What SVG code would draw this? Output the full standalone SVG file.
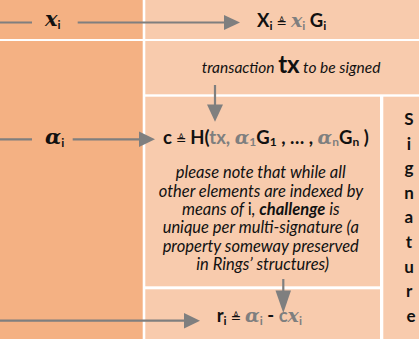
<svg xmlns="http://www.w3.org/2000/svg" width="419" height="339" viewBox="0 0 419 339">
<style>
.dark{fill:#F4B183}
.light{fill:#F8CBAD}
.ln{stroke:#7F7F7F;stroke-width:2.2;fill:none}
.hd{fill:#7F7F7F}
.f{font-family:Lato,"Liberation Sans",sans-serif;font-weight:bold;font-size:18.5px;fill:#111}
.g{fill:#7F7F7F}
.m{font-family:"DejaVu Serif","Liberation Serif",serif;font-style:italic;font-weight:bold}
.eq{font-family:"DejaVu Sans",sans-serif;font-weight:normal;font-size:12.5px}
.sub{font-size:12px}
.it{font-family:Lato,"Liberation Sans",sans-serif;font-style:italic;font-size:15.5px;fill:#111}
.note{font-size:16.5px}
.sig{font-family:Lato,"Liberation Sans",sans-serif;font-weight:bold;font-size:17px;fill:#111;text-anchor:middle}
</style>
<rect x="0" y="0" width="419" height="339" fill="#fff"/>
<g id="left-x"><rect class="dark" x="0" y="0" width="142.7" height="39"/></g>
<g id="left-alpha"><rect class="dark" x="0" y="41" width="142.7" height="298"/></g>
<g id="node-X">
<rect class="light" x="145.3" y="0" width="273.7" height="39"/>
<text class="f" x="257" y="27">X<tspan class="sub" dy="3">i</tspan><tspan class="eq" dy="-3"> ≜ </tspan><tspan class="m g" font-size="19">x</tspan><tspan class="sub g" dy="3">i</tspan><tspan dy="-3"> G</tspan><tspan class="sub" dy="3">i</tspan></text>
</g>
<g id="node-tx">
<rect class="light" x="145.3" y="41" width="273.7" height="53.3"/>
<text class="it" x="201.7" y="73">transaction <tspan font-style="normal" font-weight="bold" font-size="24px">tx</tspan> to be signed</text>
</g>
<g id="node-c">
<rect class="light" x="145.3" y="96.7" width="234.7" height="189.6"/>
<text class="f" x="163" y="144">c<tspan class="eq"> ≜ </tspan>H(<tspan class="g">tx, </tspan><tspan class="m g" font-size="19">α</tspan><tspan class="sub g" dy="2">1</tspan><tspan dy="-2">G</tspan><tspan class="sub" dy="2">1</tspan><tspan dy="-2"> , … , </tspan><tspan class="m g" font-size="19">α</tspan><tspan class="sub g" dy="2">n</tspan><tspan dy="-2">G</tspan><tspan class="sub" dy="2">n</tspan><tspan dy="-2"> )</tspan></text>
<text class="it note" text-anchor="middle">
<tspan x="262.7" y="178.3">please note that while all</tspan>
<tspan x="262.7" y="196.6">other elements are indexed by</tspan>
<tspan x="262.7" y="214.9">means of <tspan font-style="normal">i</tspan>, <tspan font-weight="bold">challenge</tspan> is</tspan>
<tspan x="262.7" y="233.2">unique per multi-signature (a</tspan>
<tspan x="262.7" y="251.5">property someway preserved</tspan>
<tspan x="262.7" y="269.8">in Rings’ structures)</tspan>
</text>
</g>
<g id="node-r">
<rect class="light" x="145.3" y="289.3" width="234.7" height="49.7"/>
<text class="f" x="216.7" y="322">r<tspan class="sub" dy="3">i</tspan><tspan class="eq" dy="-3"> ≜ </tspan><tspan class="m g" font-size="19">α</tspan><tspan class="sub g" dy="3">i</tspan><tspan dy="-3"> - </tspan><tspan class="g">c</tspan><tspan class="m g" font-size="19">x</tspan><tspan class="sub g" dy="3">i</tspan></text>
</g>
<g id="node-signature">
<rect class="light" x="383.3" y="96.7" width="35.7" height="242.3"/>
<text class="sig">
<tspan x="411" y="125">S</tspan>
<tspan x="411" y="149.6">i</tspan>
<tspan x="411" y="174.2">g</tspan>
<tspan x="411" y="198.8">n</tspan>
<tspan x="411" y="223.4">a</tspan>
<tspan x="411" y="248">t</tspan>
<tspan x="411" y="272.6">u</tspan>
<tspan x="411" y="297.2">r</tspan>
<tspan x="411" y="321.8">e</tspan>
</text>
</g>
<g id="label-x"><text class="f" x="45" y="26"><tspan class="m" font-size="21">x</tspan><tspan class="sub" dy="3">i</tspan></text></g>
<g id="label-alpha"><text class="f" x="45" y="144"><tspan class="m" font-size="21">α</tspan><tspan class="sub" dy="3">i</tspan></text></g>
<g id="connectors">
<path class="ln" d="M0 22.5H32M77.7 22.5H226"/>
<polygon class="hd" points="224,15 240,22.5 224,30"/>
<path class="ln" d="M0 139.3H32M72.7 139.3H141"/>
<polygon class="hd" points="139,131.5 155,139.3 139,147"/>
<path class="ln" d="M0 320.7H186"/>
<polygon class="hd" points="184,313 200,320.7 184,328.5"/>
<path class="ln" d="M215 85V106"/>
<polygon class="hd" points="207,104.5 223,104.5 215,121.7"/>
<path class="ln" d="M283.3 279V292"/>
<polygon class="hd" points="275.5,290.5 291,290.5 283.3,313"/>
</g>
</svg>
